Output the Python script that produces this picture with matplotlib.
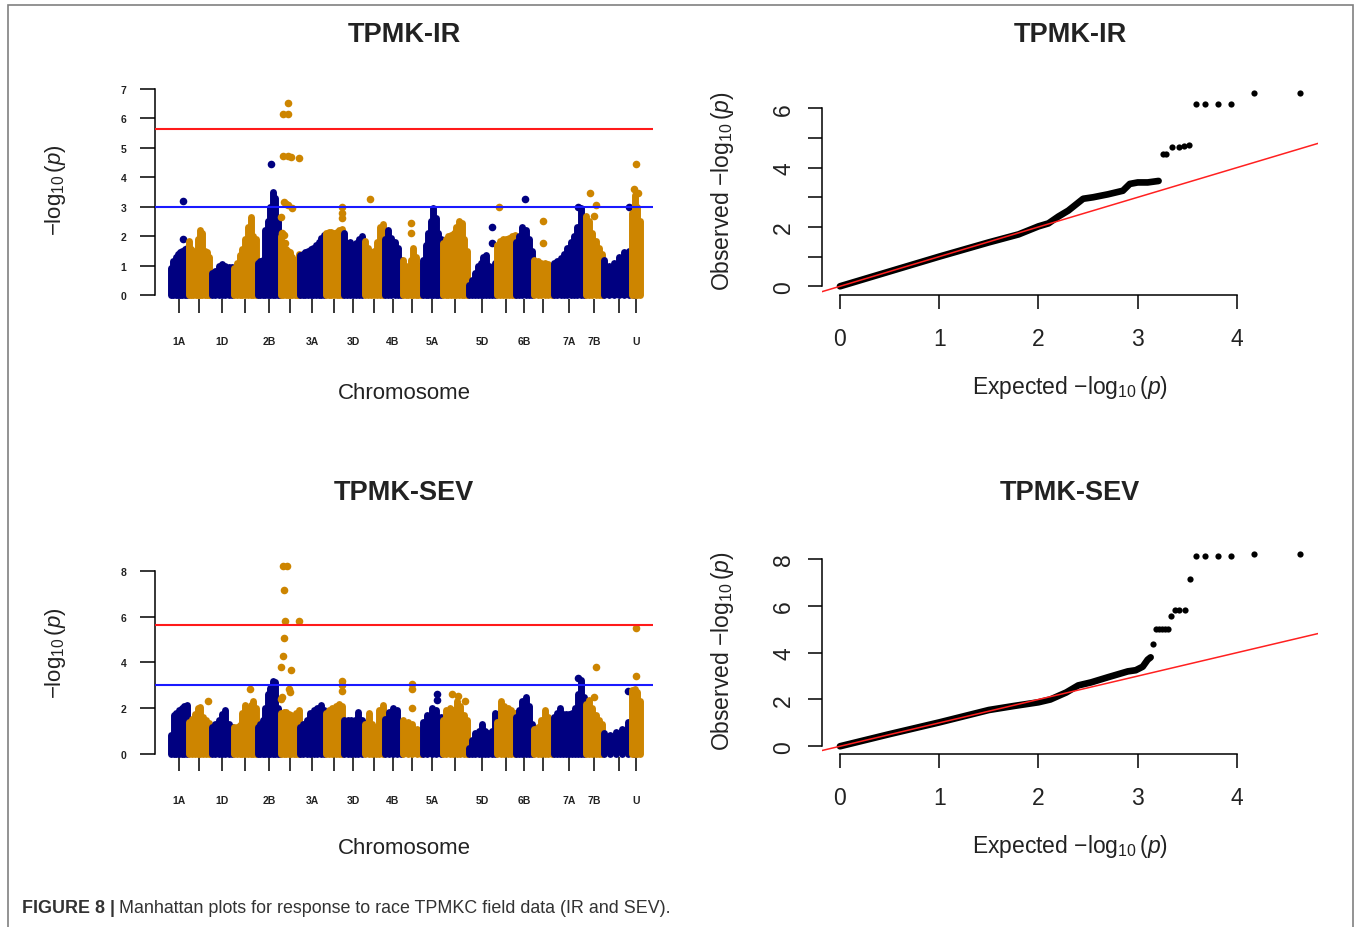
import matplotlib
matplotlib.use("Agg")
import matplotlib.pyplot as plt
import numpy as np
from matplotlib.patches import Rectangle

plt.rcParams["font.family"] = ["Liberation Sans", "DejaVu Sans"]
plt.rcParams["mathtext.fontset"] = "custom"
plt.rcParams["mathtext.rm"] = "Liberation Sans"
plt.rcParams["mathtext.it"] = "Liberation Sans:italic"
plt.rcParams["mathtext.bf"] = "Liberation Sans:bold"

# ---- chromosomes: cumulative map position (arbitrary units) ----
chroms = ["1A", "1B", "1D", "2A", "2B", "2D", "3A", "3B", "3D", "4A", "4B",
          "4D", "5A", "5B", "5D", "6A", "6B", "6D", "7A", "7B", "7D", "U"]
chrom_start = [0, 18, 41, 63, 87, 110, 129, 155, 173, 194, 214,
               232, 252, 272, 298, 326, 345, 363, 383, 415, 433, 461]
chrom_end = [16, 38, 61, 85, 109, 128, 153, 171, 191, 212, 230,
             250, 270, 296, 324, 344, 361, 381, 413, 431, 463, 469]
shown_labels = ["1A", "1D", "2B", "3A", "3D", "4B", "5A", "5D", "6B",
                "7A", "7B", "U"]

# ---- TPMK-IR: dense SNP profile per chromosome (-log10 p) ----
ir_body = [
    [0.9, 1.15, 1.3, 1.4, 1.45, 1.5, 1.55, 1.6],
    [1.85, 1.55, 1.5, 1.45, 1.9, 2.2, 2.1, 1.5, 1.45, 1.3],
    [0.75, 0.8, 1.0, 1.05, 1.0, 0.95, 0.95],
    [0.9, 1.1, 1.35, 1.55, 1.9, 2.3, 2.65, 2.0, 1.9],
    [1.1, 1.15, 1.2, 2.2, 2.5, 3.0, 3.5, 3.3, 2.5, 1.5],
    [2.0, 1.7, 1.55, 1.5, 1.45, 1.3, 1.2, 1.1, 1.4],
    [1.35, 1.4, 1.45, 1.5, 1.55, 1.6, 1.7, 1.8, 1.95, 2.05],
    [2.1, 2.15, 2.15, 2.1, 2.15, 2.2, 2.25],
    [2.1, 1.75, 1.8, 1.7, 1.75, 1.9, 2.0],
    [1.85, 1.6, 1.45, 1.5, 1.8, 2.3, 2.4],
    [1.9, 2.2, 1.95, 1.8, 1.6, 1.2],
    [1.2, 1.0, 0.9, 1.2, 1.6, 1.3, 1.0, 1.0],
    [1.2, 1.7, 2.1, 2.5, 2.95, 2.6, 2.1, 1.9],
    [1.75, 1.9, 2.0, 2.05, 2.1, 2.3, 2.5, 2.45, 1.9, 1.5],
    [0.35, 0.5, 0.75, 1.0, 1.1, 1.3, 1.35, 1.0, 0.9, 1.1],
    [1.7, 1.85, 1.9, 1.9, 1.95, 2.0, 2.05],
    [1.8, 2.0, 2.3, 2.2, 1.9, 1.5],
    [1.2, 1.15, 1.1, 1.1, 1.05, 1.0],
    [1.1, 1.15, 1.25, 1.4, 1.6, 1.8, 2.0, 2.3, 2.95, 2.4],
    [2.7, 2.5, 2.1, 1.85, 1.6, 1.4],
    [1.2, 1.0, 1.1, 1.3, 1.45, 1.5, 1.5],
    [2.8, 3.4, 3.0, 2.5],
]
# isolated SNPs: (chromosome, relative position, -log10 p)
ir_hits = [
    ("1A", 0.75, 1.9), ("1A", 0.75, 3.2), ("2B", 0.58, 4.45),
    ("2D", 0.41, 6.52), ("2D", 0.09, 6.15), ("2D", 0.41, 6.15),
    ("2D", 0.09, 4.72), ("2D", 0.41, 4.72), ("2D", 0.56, 4.7),
    ("2D", 1.0, 4.65), ("2D", 0.15, 3.15), ("2D", 0.3, 3.1),
    ("2D", 0.4, 3.05), ("2D", 0.6, 2.95), ("2D", 0.0, 2.65),
    ("2D", 0.05, 2.1), ("2D", 0.15, 2.05), ("2D", 0.2, 1.75),
    ("3B", 0.98, 3.0), ("3B", 0.98, 2.8), ("3B", 0.98, 2.6),
    ("4A", 0.28, 3.25), ("4D", 0.43, 2.45), ("4D", 0.43, 2.1),
    ("5D", 0.87, 2.3), ("5D", 0.87, 1.75), ("6A", 0.13, 3.0),
    ("6B", 0.56, 3.25), ("6D", 0.52, 2.5), ("6D", 0.48, 1.75),
    ("7A", 0.81, 3.0), ("7B", 0.25, 3.45), ("7B", 0.62, 3.05),
    ("7B", 0.5, 2.7), ("7D", 0.84, 3.0), ("U", 0.46, 4.45),
    ("U", 0.3, 3.6), ("U", 0.7, 3.45),
]

# ---- TPMK-SEV ----
sev_body = [
    [0.85, 1.7, 1.8, 1.9, 2.0, 2.1, 2.15],
    [1.4, 1.55, 1.75, 2.0, 2.05, 1.6, 1.5, 1.35],
    [1.2, 1.3, 1.5, 1.75, 1.9, 1.3, 1.2],
    [1.2, 1.2, 1.25, 1.8, 2.15, 1.9, 2.15, 2.3, 2.0],
    [1.2, 1.3, 1.5, 2.0, 2.6, 2.9, 3.2, 3.15, 2.0, 1.7],
    [1.8, 1.85, 1.85, 1.75, 1.7, 1.6, 1.8, 1.9],
    [1.2, 1.3, 1.5, 1.8, 1.9, 2.0, 2.15, 1.9],
    [1.8, 1.9, 2.0, 2.1, 2.2, 2.1],
    [1.5, 1.5, 1.5, 1.5, 1.85, 1.5],
    [1.3, 1.8, 1.3, 1.2, 1.9, 2.15],
    [1.55, 1.85, 2.0, 1.9, 1.4],
    [1.5, 1.4, 1.3, 1.1, 1.0],
    [1.4, 1.7, 2.0, 1.9, 1.6],
    [1.5, 1.9, 2.0, 1.9, 2.3, 2.1, 1.7, 1.5],
    [0.25, 0.6, 0.9, 1.0, 1.3, 1.0, 0.9, 1.0, 1.8],
    [1.4, 2.3, 2.1, 2.0, 1.9, 1.8],
    [1.6, 1.9, 2.3, 2.5, 2.1, 1.3],
    [1.1, 1.2, 1.5, 1.9, 1.6, 1.2],
    [1.6, 1.8, 2.0, 1.75, 1.75, 1.75, 1.8, 2.0, 2.6, 3.25, 2.5],
    [2.2, 2.35, 2.0, 1.7, 1.5, 1.3],
    [0.9, 0.85, 0.95, 1.1, 1.4, 1.6],
    [2.8, 2.85, 2.7, 2.3],
]
sev_hits = [
    ("1B", 0.97, 2.3), ("2A", 0.73, 2.85),
    ("2D", 0.13, 8.2), ("2D", 0.35, 8.2), ("2D", 0.17, 7.15),
    ("2D", 0.24, 5.8), ("2D", 1.0, 5.8), ("2D", 0.17, 5.05),
    ("2D", 0.13, 4.3), ("2D", 0.0, 3.8), ("2D", 0.54, 3.65),
    ("2D", 0.43, 2.85), ("2D", 0.48, 2.7), ("2D", 0.05, 2.5),
    ("2D", 0.0, 2.4), ("3B", 1.0, 3.2), ("3B", 1.0, 3.0),
    ("3B", 1.0, 2.75), ("4D", 0.48, 3.05), ("4D", 0.48, 2.85),
    ("4D", 0.48, 2.0), ("5A", 0.76, 2.6), ("5A", 0.76, 2.35),
    ("5B", 0.36, 2.6), ("5B", 0.64, 2.55), ("5B", 0.92, 2.3),
    ("7A", 0.81, 3.3), ("7B", 0.62, 3.8), ("7B", 0.5, 2.5),
    ("7D", 0.81, 2.76), ("U", 0.46, 5.5), ("U", 0.46, 3.4),
]

suggestive_line = 3.0
genomewide_line = 5.65

# ---- QQ plots: expected vs observed -log10 p ----
ir_qq_exp = [0.0, 0.5, 1.0, 1.5, 1.8, 2.0, 2.1, 2.2, 2.3, 2.45, 2.55, 2.7,
             2.85, 2.92, 3.0, 3.1, 3.21]
ir_qq_obs = [0.0, 0.5, 1.0, 1.48, 1.75, 2.02, 2.12, 2.35, 2.55, 2.95, 3.0,
             3.1, 3.22, 3.45, 3.5, 3.5, 3.55]
ir_top_exp = [3.25, 3.28, 3.35, 3.42, 3.47, 3.52, 3.59, 3.68, 3.81, 3.94,
              4.17, 4.63]
ir_top_obs = [4.45, 4.45, 4.68, 4.7, 4.72, 4.75, 6.15, 6.15, 6.15, 6.15,
              6.5, 6.5]

sev_qq_exp = [0.0, 0.5, 1.0, 1.5, 1.75, 2.0, 2.12, 2.28, 2.4, 2.53, 2.7,
              2.9, 2.98, 3.05, 3.1, 3.13]
sev_qq_obs = [0.0, 0.52, 1.02, 1.55, 1.72, 1.88, 2.0, 2.3, 2.6, 2.73, 2.95,
              3.2, 3.25, 3.4, 3.7, 3.8]
sev_top_exp = [3.15, 3.18, 3.21, 3.24, 3.27, 3.3, 3.33, 3.38, 3.42, 3.48,
               3.53, 3.59, 3.68, 3.81, 3.94, 4.17, 4.63]
sev_top_obs = [4.35, 5.02, 5.02, 5.02, 5.02, 5.02, 5.55, 5.82, 5.82, 5.82,
               7.15, 8.12, 8.12, 8.12, 8.12, 8.2, 8.2]

NAVY = "#000080"
GOLD = "#cd8500"
TXT = "#222222"
W, H = 1362, 928


def px_rect(left, top, right, bottom):
    return [left / W, 1 - bottom / H, (right - left) / W, (bottom - top) / H]


def manhattan(ax, body, hits, yticks, ytop, ylim):
    for i, h in enumerate(body):
        col = NAVY if i % 2 == 0 else GOLD
        xs = np.linspace(chrom_start[i], chrom_end[i], len(h))
        ax.vlines(xs, 0, h, colors=col, linewidth=5.0, capstyle="round",
                  zorder=2, clip_on=False)
        pts = [(f, v) for c, f, v in hits if c == chroms[i]]
        if pts:
            span = chrom_end[i] - chrom_start[i]
            hx = [chrom_start[i] + f * span for f, v in pts]
            hy = [v for f, v in pts]
            ax.scatter(hx, hy, s=30, color=col, linewidths=0, zorder=2,
                       clip_on=False)
    ax.axhline(genomewide_line, color="#ff1a1a", lw=1.5, zorder=3)
    ax.axhline(suggestive_line, color="#1a1aff", lw=1.5, zorder=3)
    ax.set_xlim(-16, 482)
    ax.set_ylim(*ylim)
    for s in ["top", "right", "bottom"]:
        ax.spines[s].set_visible(False)
    ax.spines["left"].set_bounds(0, ytop)
    ax.spines["left"].set_linewidth(1.1)
    ax.set_yticks(yticks)
    ax.set_yticklabels([str(t) for t in yticks], fontsize=7.5,
                       fontweight="bold", color=TXT)
    centers = [(a + b) / 2 for a, b in zip(chrom_start, chrom_end)]
    ax.set_xticks(centers)
    ax.set_xticklabels([c if c in shown_labels else "" for c in chroms],
                       fontsize=7.5, fontweight="bold", color=TXT)
    ax.tick_params(axis="y", length=10.5, width=1.1, pad=10)
    ax.tick_params(axis="x", length=10, width=1.1, pad=17)
    ax.set_xlabel("Chromosome", fontsize=16, color=TXT)
    ax.xaxis.set_label_coords(0.5, -0.43)
    ax.xaxis.label.set_va("center")
    ax.set_ylabel(r"$-\log_{10}(\mathit{p})$", fontsize=16, color=TXT)
    ax.yaxis.set_label_coords(-0.2, 0.5)
    ax.yaxis.label.set_va("center")


def qqplot(ax, exp, obs, top_exp, top_obs, yticks, ylabels, ytop, ylim):
    ax.plot(exp, obs, color="black", lw=4.8, solid_capstyle="round",
            solid_joinstyle="round", zorder=2)
    ax.scatter(top_exp, top_obs, s=20, color="black", linewidths=0, zorder=2)
    ax.axline((0, 0), slope=1, color="#ff2020", lw=1.1, zorder=3)
    ax.set_xlim(-0.185, 4.82)
    ax.set_ylim(*ylim)
    for s in ["top", "right"]:
        ax.spines[s].set_visible(False)
    ax.spines["left"].set_bounds(0, ytop)
    ax.spines["bottom"].set_bounds(0, 4)
    ax.spines["left"].set_linewidth(1.1)
    ax.spines["bottom"].set_linewidth(1.1)
    ax.set_xticks([0, 1, 2, 3, 4])
    ax.set_xticklabels(["0", "1", "2", "3", "4"], fontsize=16.5, color=TXT)
    ax.set_yticks(yticks)
    ax.set_yticklabels(ylabels, fontsize=16.5, color=TXT)
    ax.tick_params(length=10, width=1.1)
    ax.tick_params(axis="x", pad=13)
    ax.tick_params(axis="y", labelrotation=90, pad=9)
    for lab in ax.get_yticklabels():
        lab.set_va("center")
    ax.set_xlabel(r"Expected $-\log_{10}(\mathit{p})$", fontsize=16.5,
                  color=TXT)
    ax.xaxis.set_label_coords(0.5, -0.44)
    ax.xaxis.label.set_va("center")
    ax.set_ylabel(r"Observed $-\log_{10}(\mathit{p})$", fontsize=16.5,
                  color=TXT)
    ax.yaxis.set_label_coords(-0.2, 0.5)
    ax.yaxis.label.set_va("center")


fig = plt.figure(figsize=(13.62, 9.28), dpi=100)

ax1 = fig.add_axes(px_rect(155, 81.2, 653, 299.5))
manhattan(ax1, ir_body, ir_hits, list(range(0, 8)), 7, (-0.12, 7.3))

ax2 = fig.add_axes(px_rect(821.6, 86.7, 1318.4, 295.9))
qqplot(ax2, ir_qq_exp, ir_qq_obs, ir_top_exp, ir_top_obs,
       [0, 1, 2, 3, 4, 5, 6], ["0", "", "2", "", "4", "", "6"], 6,
       (-0.29, 6.76))

ax3 = fig.add_axes(px_rect(155, 548.9, 653, 758.2))
manhattan(ax3, sev_body, sev_hits, [0, 2, 4, 6, 8], 8, (-0.14, 9.0))

ax4 = fig.add_axes(px_rect(821.6, 547.4, 1318.4, 755.0))
qqplot(ax4, sev_qq_exp, sev_qq_obs, sev_top_exp, sev_top_obs,
       [0, 2, 4, 6, 8], ["0", "2", "4", "6", "8"], 8, (-0.33, 8.54))

# panel titles at fixed heights, as in the original figure
for ax, ty, t in [(ax1, 35, "TPMK-IR"), (ax2, 35, "TPMK-IR"),
                  (ax3, 493, "TPMK-SEV"), (ax4, 493, "TPMK-SEV")]:
    bb = ax.get_position()
    fig.text(bb.x0 + bb.width / 2, 1 - ty / H, t, fontsize=19.5,
             fontweight="bold", color=TXT, ha="center", va="center")

# frame and caption
fig.add_artist(Rectangle((8 / W, -0.05), (1353 - 8) / W, 1.05 - 6 / H,
                         transform=fig.transFigure, fill=False,
                         edgecolor="#808080", lw=1.2))
cap1 = fig.text(22 / W, 1 - 909 / H, "FIGURE 8 |", fontsize=12.9,
                fontweight="bold", color="#333333", va="center")
fig.canvas.draw()
bb = cap1.get_window_extent()
fig.text((bb.x1 + 4) / W, 1 - 909 / H,
         "Manhattan plots for response to race TPMKC field data (IR and SEV).",
         fontsize=12.9, color="#333333", va="center")

fig.savefig("out.png", dpi=100)
